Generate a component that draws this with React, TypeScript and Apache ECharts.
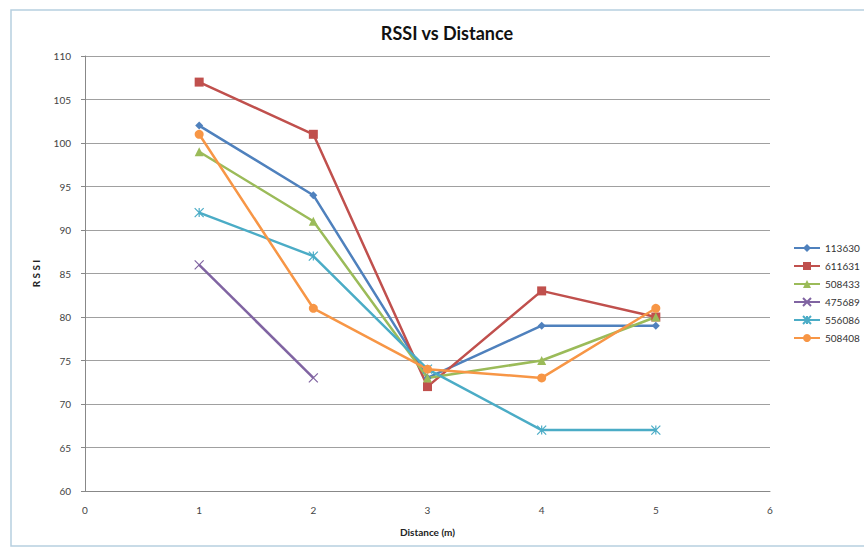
import React, { useEffect, useRef } from "react";
import * as echarts from "echarts";

const seriesNames = ["113630", "611631", "508433", "475689", "556086", "508408"];
const distances = [1, 2, 3, 4, 5];
const s113630 = [102, 94, 73, 79, 79];
const s611631 = [107, 101, 72, 83, 80];
const s508433 = [99, 91, 73, 75, 80];
const s475689 = [86, 73];
const s556086 = [92, 87, 74, 67, 67];
const s508408 = [101, 81, 74, 73, 81];
const colors = ["#4F81BD", "#C0504D", "#9BBB59", "#8064A2", "#4BACC6", "#F79646"];
const symbols = [
  "diamond",
  "rect",
  "triangle",
  "path://M0 0 L10 10 M10 0 L0 10",
  "path://M0 0 L10 10 M10 0 L0 10 M5 0 L5 10",
  "circle",
];
const symbolSizes = [8, 9, 9, 9, 9, 9];

export default function App() {
  const ref = useRef<HTMLDivElement>(null);
  useEffect(() => {
    if (!ref.current) return;
    const chart = echarts.init(ref.current, undefined, { renderer: "svg" });
    const all = [s113630, s611631, s508433, s475689, s556086, s508408];
    const font = "Lato, 'Open Sans', sans-serif";
    chart.setOption({
      animation: false,
      backgroundColor: "#ffffff",
      graphic: [
        {
          type: "rect",
          shape: { x: 11, y: 10, width: 860, height: 536 },
          style: { fill: "none", stroke: "#b7cfe0", lineWidth: 1.5 },
          silent: true,
        },
      ],
      title: {
        text: "RSSI vs Distance",
        left: 442,
        textAlign: "center",
        top: 19,
        textStyle: { fontFamily: font, fontSize: 18, fontWeight: "bold", color: "#111" },
      },
      legend: {
        orient: "vertical",
        left: 788,
        top: 238,
        itemGap: 8,
        itemWidth: 26,
        itemHeight: 10,
        data: seriesNames,
        textStyle: { fontFamily: font, fontSize: 10, color: "#333", overflow: "none", width: 60 },
      },
      grid: { left: 85, right: 94, top: 56, bottom: 59, containLabel: false },
      xAxis: {
        type: "value",
        min: 0,
        max: 6,
        interval: 1,
        name: "Distance (m)",
        nameLocation: "middle",
        nameGap: 36,
        nameTextStyle: { fontFamily: font, fontSize: 10, fontWeight: "bold", color: "#222" },
        axisLine: { show: true, lineStyle: { color: "#888" } },
        axisTick: { show: false },
        splitLine: { show: false },
        axisLabel: { fontFamily: font, fontSize: 10, color: "#444", margin: 14 },
      },
      yAxis: {
        type: "value",
        min: 60,
        max: 110,
        interval: 5,
        name: "R S S I",
        nameLocation: "middle",
        nameGap: 44,
        nameTextStyle: { fontFamily: font, fontSize: 10, fontWeight: "bold", color: "#222" },
        axisLine: { show: true, lineStyle: { color: "#888" } },
        axisTick: { show: true, inside: false, length: 4, lineStyle: { color: "#888" } },
        splitLine: { show: true, lineStyle: { color: "#a0a0a0", width: 1 } },
        axisLabel: { fontFamily: font, fontSize: 10, color: "#444", margin: 14 },
      },
      series: seriesNames.map((n, i) => ({
        name: n,
        type: "line",
        data: all[i].map((v, j) => [distances[j], v]),
        symbol: symbols[i],
        symbolSize: symbolSizes[i],
        showSymbol: true,
        lineStyle: { color: colors[i], width: 2.5 },
        itemStyle: {
          color: colors[i],
          borderColor: colors[i],
          borderWidth: symbols[i].startsWith("path") ? 1.2 : 0,
        },
      })),
    });
    return () => chart.dispose();
  }, []);
  return (
    <div
      ref={ref}
      style={{ position: "absolute", left: 0, top: 0, width: 864, height: 550 }}
    />
  );
}
